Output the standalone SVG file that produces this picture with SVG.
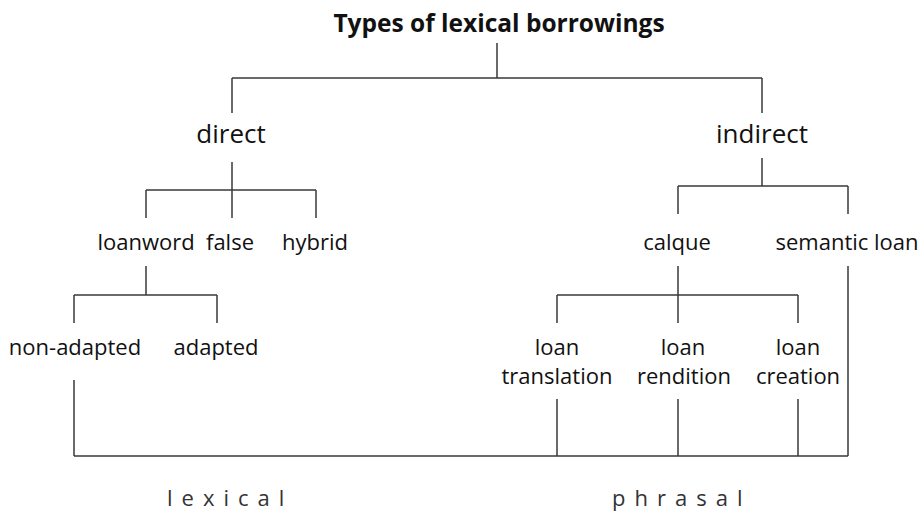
<svg xmlns="http://www.w3.org/2000/svg" width="922" height="517" viewBox="0 0 922 517">
<style>
.ln{stroke:#3a3a3a;stroke-width:1.5;fill:none}
text{font-family:"Open Sans","Noto Sans",sans-serif;fill:#111;text-anchor:middle}
.t{font-size:24.5px;font-weight:bold}
.l1{font-size:26px}
.l2{font-size:22px}
.sp{font-size:22px;letter-spacing:9px;text-anchor:start;fill:#333}
</style>
<rect width="922" height="517" fill="#fff"/>
<g id="connectors">
<path class="ln" d="M497,43V78M232,78H762M232,78V113M762,78V113"/>
<path class="ln" d="M232,162V190M146,190H316M146,190V218M232,190V218M316,190V218"/>
<path class="ln" d="M146,266V295M74,295H217M74,295V323M217,295V323"/>
<path class="ln" d="M762,158V186M678,186H848M678,186V214M848,186V214"/>
<path class="ln" d="M678,266V323M557,295H798M557,295V323M798,295V323"/>
<path class="ln" d="M848,266V456M74,380V456M74,456H848M557,399V456M678,399V456M798,399V456"/>
</g>
<g id="title"><text class="t" x="499" y="32">Types of lexical borrowings</text></g>
<g id="direct"><text class="l1" x="231" y="143">direct</text></g>
<g id="indirect"><text class="l1" x="762" y="143">indirect</text></g>
<g id="loanword"><text class="l2" x="146" y="250">loanword</text></g>
<g id="false"><text class="l2" x="230" y="250">false</text></g>
<g id="hybrid"><text class="l2" x="315" y="250">hybrid</text></g>
<g id="non-adapted"><text class="l2" x="75" y="355">non-adapted</text></g>
<g id="adapted"><text class="l2" x="216" y="355">adapted</text></g>
<g id="calque"><text class="l2" x="677" y="250">calque</text></g>
<g id="semantic-loan"><text class="l2" x="847" y="250">semantic loan</text></g>
<g id="loan-translation"><text class="l2" x="557" y="355">loan</text><text class="l2" x="557" y="384">translation</text></g>
<g id="loan-rendition"><text class="l2" x="683" y="355">loan</text><text class="l2" x="684" y="384">rendition</text></g>
<g id="loan-creation"><text class="l2" x="798" y="355">loan</text><text class="l2" x="798" y="384">creation</text></g>
<g id="lexical"><text class="sp" x="167" y="506">lexical</text></g>
<g id="phrasal"><text class="sp" x="612" y="506">phrasal</text></g>
</svg>
